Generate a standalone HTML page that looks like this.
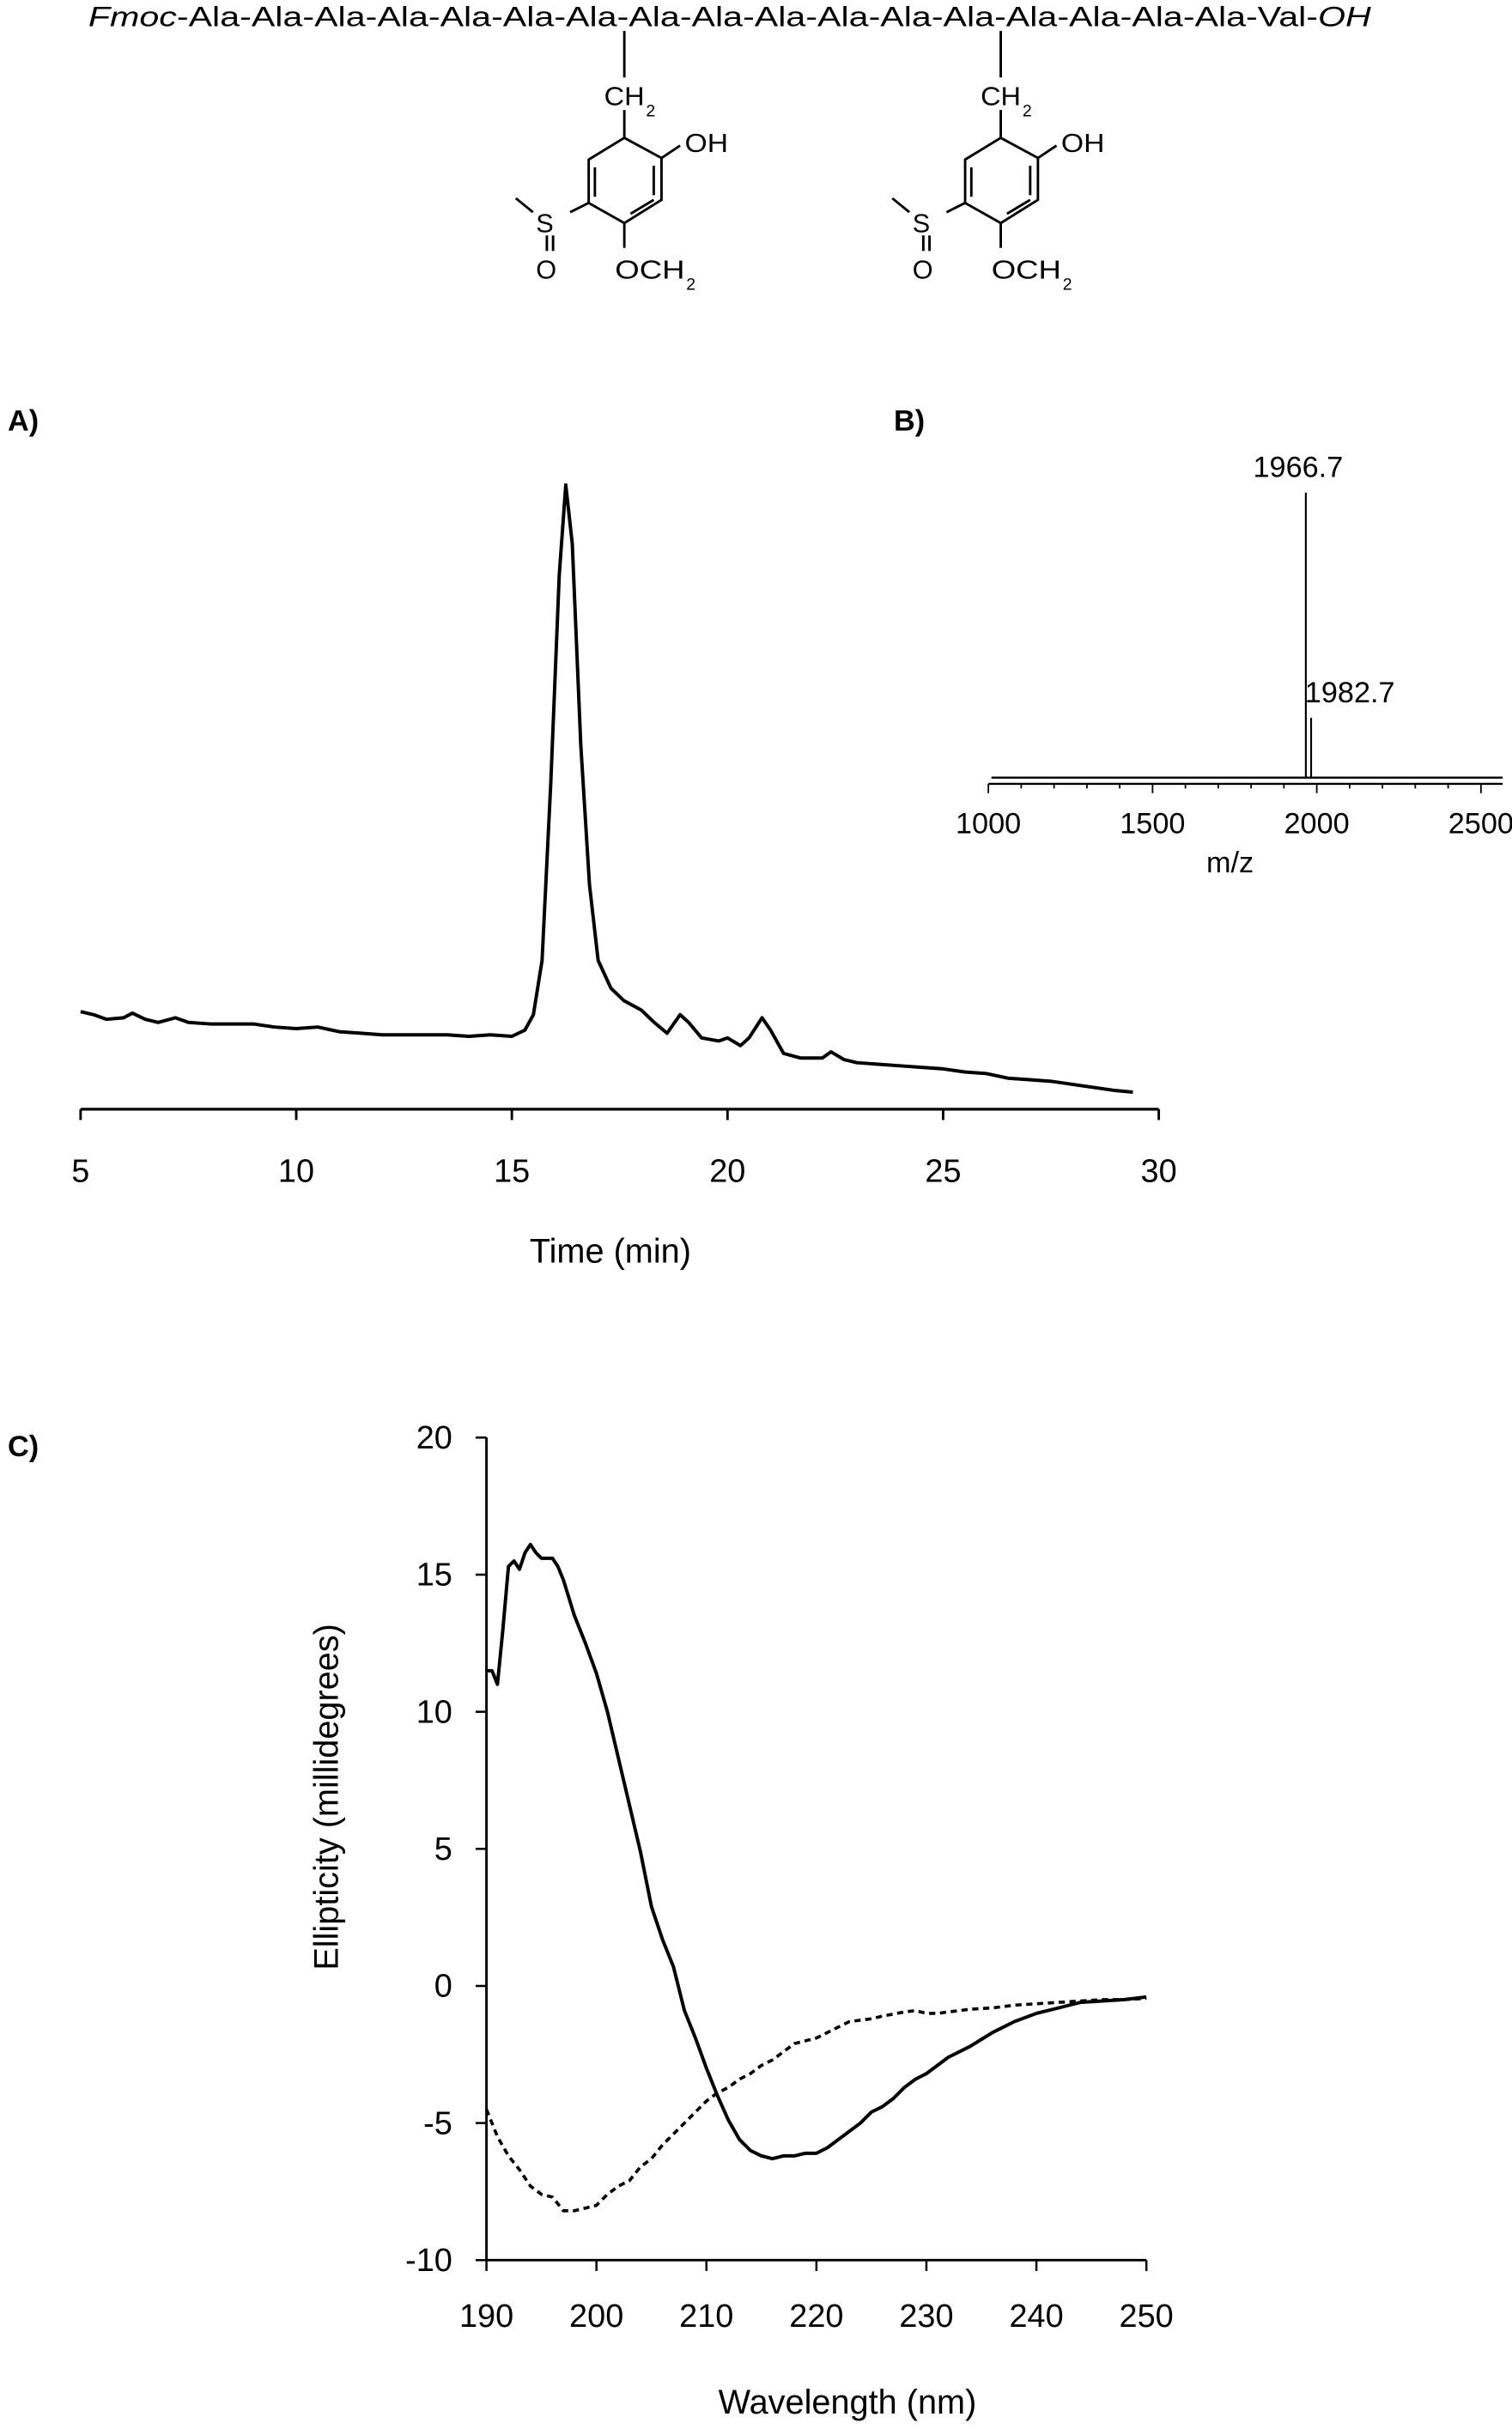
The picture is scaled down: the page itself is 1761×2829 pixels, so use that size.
<!DOCTYPE html>
<html><head><meta charset="utf-8"><style>
html,body{margin:0;padding:0;background:#fff}
svg{display:block}
text{font-family:"Liberation Sans",sans-serif;fill:#000}
</style></head><body>
<svg id="fig" width="1761" height="2829" viewBox="0 0 976 1568" xmlns="http://www.w3.org/2000/svg">
<g>
<text x="57" y="17" font-size="18" textLength="828" lengthAdjust="spacingAndGlyphs"><tspan font-style="italic">Fmoc</tspan>-Ala-Ala-Ala-Ala-Ala-Ala-Ala-Ala-Ala-Ala-Ala-Ala-Ala-Ala-Ala-Ala-Ala-Val-<tspan font-style="italic">OH</tspan></text>
</g>
<g id="structs" stroke="#000" stroke-width="1.6" fill="none"></g>
<text x="5" y="278" font-size="19" font-weight="bold">A)</text>
<text x="577" y="278" font-size="19" font-weight="bold">B)</text>
<text x="5" y="940" font-size="19" font-weight="bold">C)</text>
<g id="chartA"></g>
<g id="chartB"></g>
<g id="chartC"></g>
</svg>
<script>
// ---- Panel A data ----
const timeA=[5,5.3,5.6,6,6.2,6.5,6.8,7.2,7.5,8,8.5,9,9.5,10,10.5,11,11.5,12,12.5,13,13.5,14,14.5,15,15.3,15.5,15.7,15.9,16.1,16.25,16.4,16.6,16.8,17,17.3,17.6,18,18.3,18.6,18.9,19.1,19.4,19.8,20,20.3,20.5,20.8,21,21.3,21.7,22.2,22.4,22.7,23,23.5,24,24.5,25,25.5,26,26.5,27,27.5,28,28.5,29,29.4];
const signalA=[63,61,58,59,62,58,56,59,56,55,55,55,53,52,53,50,49,48,48,48,48,47,48,47,51,61,96,210,345,403,365,235,145,96,78,70,64,56,49,61,56,46,44,46,41,46,59,51,36,33,33,37,32,30,29,28,27,26,24,23,20,19,18,16,14,12,11];
const ticksA=[5,10,15,20,25,30];
// ---- Panel B data ----
const mzPeaks=[1966.7,1982.7];
const intensB=[100,21];
const labelsB=["1966.7","1982.7"];
const ticksB=[1000,1500,2000,2500];
// ---- Panel C data ----
const wlSolid=[190,190.5,191,191.5,192,192.5,193,193.5,194,194.5,195,196,196.5,197,198,199,200,201,202,203,204,205,206,207,208,209,210,211,212,213,214,215,216,217,218,219,220,221,222,223,224,225,226,227,228,229,230,232,234,236,238,240,242,244,246,248,250];
const cdSolid=[11.5,11.5,11.0,13,15.3,15.5,15.2,15.8,16.1,15.8,15.6,15.6,15.3,14.8,13.5,12.5,11.4,10,8.3,6.6,4.9,2.9,1.7,0.7,-0.9,-1.9,-3.0,-4.0,-4.9,-5.6,-6.0,-6.2,-6.3,-6.2,-6.2,-6.1,-6.1,-5.9,-5.6,-5.3,-5.0,-4.6,-4.4,-4.1,-3.7,-3.4,-3.2,-2.6,-2.2,-1.7,-1.3,-1.0,-0.8,-0.6,-0.55,-0.5,-0.4];
const wlDash=[190,191,192,193,194,195,196,197,198,199,200,201,202,203,204,205,206,207,208,209,210,211,212,213,214,215,216,217,218,219,220,221,222,223,224,225,226,228,229,230,231,232,234,236,238,240,242,244,246,248,250];
const cdDash=[-4.5,-5.5,-6.2,-6.7,-7.3,-7.6,-7.7,-8.2,-8.2,-8.1,-8.0,-7.6,-7.3,-7.1,-6.6,-6.3,-5.8,-5.4,-5.0,-4.6,-4.2,-3.9,-3.7,-3.4,-3.2,-2.9,-2.7,-2.4,-2.1,-2.0,-1.9,-1.7,-1.5,-1.3,-1.25,-1.2,-1.1,-0.95,-0.9,-1.0,-1.0,-0.95,-0.85,-0.8,-0.7,-0.65,-0.6,-0.55,-0.5,-0.5,-0.45];
const ticksCx=[190,200,210,220,230,240,250];
const ticksCy=[20,15,10,5,0,-5,-10];

const NS="http://www.w3.org/2000/svg";
function mk(tag,attrs,parent){const e=document.createElementNS(NS,tag);for(const k in attrs)e.setAttribute(k,attrs[k]);parent.appendChild(e);return e;}

// Structures
const S=document.getElementById('structs');
[0,243].forEach((dx,i)=>{
  const g=mk('g',{transform:`translate(${dx},0)`},S);
  
  
  const L=(a,b,c,d)=>mk('line',{x1:a,y1:b,x2:c,y2:d},g);
  L(403,20,403,50); L(403,71,403,89);
  mk('polygon',{points:"403,89 427,102 427,129 403,144 380,131 380,103"},g);
  L(422,107,422,126); L(384,108,384,127); L(407,138,422,129);
  L(427,102,439,94); L(380,131,368,137); L(333,128,344,137);
  L(353,152,353,162); L(357,152,357,162); L(403,144,403,160);
  const T=(x,y,s,t,len)=>{const a={x:x,y:y,'font-size':s,stroke:'none'};if(len){a.textLength=len;a.lengthAdjust='spacingAndGlyphs';}const e=mk('text',a,g);e.textContent=t;return e;};
  T(390,68,17,'CH',26); T(417,75,11,'2',6);
  T(442,98,17,'OH',28); T(346,150,17,'S'); T(346,180,17,'O');
  T(397,180,17,'OCH',45); T(443,187,11,'2',6);
});

// Panel A
const A=document.getElementById('chartA');
const xA=t=>52+(t-5)*(748-52)/25, yA=v=>716-v;
mk('line',{x1:52,y1:716,x2:748,y2:716,stroke:'#000','stroke-width':1.8},A);
ticksA.forEach(t=>{
  const l=mk('line',{x1:xA(t),y1:716,x2:xA(t),y2:723,stroke:'#000','stroke-width':1.6},A);
  
  const tx=mk('text',{x:xA(t),y:763,'font-size':21,'text-anchor':'middle'},A);tx.textContent=t;
  
});
const xtA=mk('text',{x:394,y:815,'font-size':22,'text-anchor':'middle'},A);xtA.textContent='Time (min)';

const pA=mk('path',{d:timeA.map((t,i)=>(i?'L':'M')+xA(t).toFixed(1)+','+yA(signalA[i]).toFixed(1)).join(''),fill:'none',stroke:'#000','stroke-width':2.2,'stroke-linejoin':'round'},A);


// Panel B
const B=document.getElementById('chartB');
const xB=m=>638+(m-1000)*0.212, yB=v=>502-v*1.84;
mk('line',{x1:640,y1:502,x2:970,y2:502,stroke:'#000','stroke-width':1.3},B);
mk('line',{x1:638,y1:506,x2:970,y2:506,stroke:'#000','stroke-width':1.3},B);
for(let m=1000;m<=2500;m+=100){
  const l=mk('line',{x1:xB(m),y1:506,x2:xB(m),y2:m%500===0?512:509,stroke:'#000','stroke-width':1},B);
  
}
ticksB.forEach(m=>{const t=mk('text',{x:xB(m),y:538,'font-size':19,'text-anchor':'middle'},B);t.textContent=m;
  });
const mzT=mk('text',{x:794,y:563,'font-size':19,'text-anchor':'middle'},B);mzT.textContent='m/z';

mzPeaks.forEach((m,i)=>{
  const l=mk('line',{x1:xB(m),y1:502,x2:xB(m),y2:yB(intensB[i]),stroke:'#000','stroke-width':1.2},B);
  
  const t=mk('text',{x:i===0?xB(m)-5:xB(m)-4,y:yB(intensB[i])-10,'font-size':19,'text-anchor':i===0?'middle':'start'},B);
  t.textContent=labelsB[i];
  
});

// Panel C
const C=document.getElementById('chartC');
const xC=w=>314+(w-190)*(740-314)/60, yC=v=>1282-v*17.7;
mk('line',{x1:314,y1:yC(20),x2:314,y2:1459,stroke:'#000','stroke-width':1.6},C);
mk('line',{x1:314,y1:1459,x2:740,y2:1459,stroke:'#000','stroke-width':1.6},C);
ticksCx.forEach(w=>{
  const l=mk('line',{x1:xC(w),y1:1459,x2:xC(w),y2:1466,stroke:'#000','stroke-width':1.4},C);
  
  const t=mk('text',{x:xC(w),y:1502,'font-size':21,'text-anchor':'middle'},C);t.textContent=w;
  
});
ticksCy.forEach(v=>{
  const l=mk('line',{x1:307,y1:yC(v),x2:314,y2:yC(v),stroke:'#000','stroke-width':1.4},C);
  
  const t=mk('text',{x:292,y:yC(v)+7,'font-size':21,'text-anchor':'end'},C);t.textContent=v;
  
});
const xtC=mk('text',{x:547,y:1558,'font-size':22,'text-anchor':'middle'},C);xtC.textContent='Wavelength (nm)';

const ytC=mk('text',{x:0,y:0,'font-size':22,'text-anchor':'middle',transform:'translate(218,1160) rotate(-90)'},C);ytC.textContent='Ellipticity (millidegrees)';

const sC=mk('path',{d:wlSolid.map((w,i)=>(i?'L':'M')+xC(w).toFixed(1)+','+yC(cdSolid[i]).toFixed(1)).join(''),fill:'none',stroke:'#000','stroke-width':2.2,'stroke-linejoin':'round'},C);

const dC=mk('path',{d:wlDash.map((w,i)=>(i?'L':'M')+xC(w).toFixed(1)+','+yC(cdDash[i]).toFixed(1)).join(''),fill:'none',stroke:'#000','stroke-width':2,'stroke-dasharray':'4,3'},C);

</script>
</body></html>
